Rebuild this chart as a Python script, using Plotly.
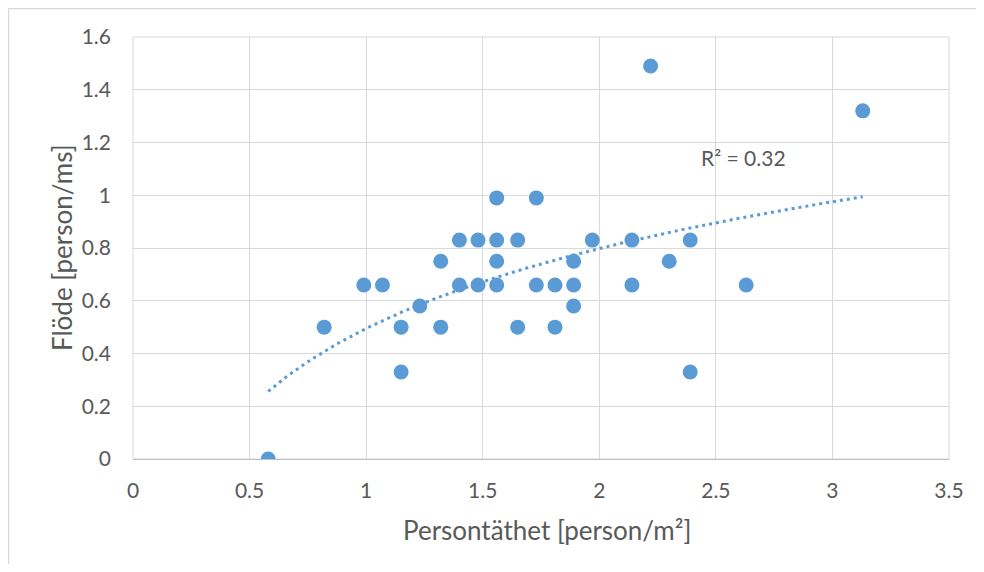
import numpy as np
import plotly.graph_objects as go

# Data
density = [0.58, 0.82, 0.99, 1.07, 1.15, 1.15, 1.23, 1.32, 1.32, 1.40, 1.40,
           1.48, 1.48, 1.56, 1.56, 1.56, 1.56, 1.65, 1.65, 1.73, 1.73, 1.81,
           1.81, 1.89, 1.89, 1.89, 1.97, 2.14, 2.14, 2.22, 2.30, 2.39, 2.39,
           2.63, 3.13]
flow = [0.00, 0.50, 0.66, 0.66, 0.50, 0.33, 0.58, 0.75, 0.50, 0.83, 0.66,
        0.83, 0.66, 0.99, 0.83, 0.75, 0.66, 0.83, 0.50, 0.99, 0.66, 0.66,
        0.50, 0.75, 0.66, 0.58, 0.83, 0.83, 0.66, 1.49, 0.75, 0.83, 0.33,
        0.66, 1.32]

x_ticks = [0, 0.5, 1, 1.5, 2, 2.5, 3, 3.5]
y_ticks = [0, 0.2, 0.4, 0.6, 0.8, 1, 1.2, 1.4, 1.6]
r2_label = "R² = 0.32"
x_title = "Persontäthet [person/m²]"
y_title = "Flöde [person/ms]"

BLUE = "#5B9BD5"
GRID = "#D9D9D9"
TEXT = "#595959"
FONT = "Lato"

# Logarithmic trendline (least squares on ln x)
xd = np.array(density)
yd = np.array(flow)
a, b = np.polyfit(np.log(xd), yd, 1)
xt = np.linspace(xd.min(), xd.max(), 200)
yt = a * np.log(xt) + b

fig = go.Figure()
fig.add_trace(go.Scatter(x=xt, y=yt, mode="lines",
                         line=dict(color=BLUE, width=3, dash="3px,4px"),
                         hoverinfo="skip", showlegend=False))
fig.add_trace(go.Scatter(x=density, y=flow, mode="markers",
                         marker=dict(color=BLUE, size=15, line=dict(width=0)),
                         showlegend=False))

# page has an 8px body margin, so the figure is 968x556
W, H = 968, 556
L, R, T, B = 125, 27, 29, 105
pw, ph = W - L - R, H - T - B


def px(xp):
    return (xp - L) / pw


def py(yp):
    return (H - B - yp) / ph


fig.update_layout(
    width=W, height=H,
    margin=dict(l=L, r=R, t=T, b=B),
    paper_bgcolor="white", plot_bgcolor="white",
    font=dict(family=FONT, color=TEXT, size=21),
    xaxis=dict(range=[0, 3.5], tickvals=x_ticks, ticktext=[f"{v:g}" for v in x_ticks],
               showgrid=True, gridcolor=GRID, gridwidth=1, zeroline=False,
               showline=True, linecolor="#BFBFBF", linewidth=1, mirror=False,
               ticks="", ticklabelstandoff=13, fixedrange=True),
    yaxis=dict(range=[0, 1.6], tickvals=y_ticks, ticktext=[f"{v:g}" for v in y_ticks],
               showgrid=True, gridcolor=GRID, gridwidth=1, zeroline=False,
               showline=False, ticks="", ticklabelstandoff=21, fixedrange=True),
    annotations=[
        dict(x=2.620, y=1.145, xref="x", yref="y", text=r2_label, showarrow=False,
             xanchor="center", yanchor="middle",
             font=dict(size=21, color=TEXT, family=FONT)),
        dict(x=px(539), y=py(522), xref="paper", yref="paper",
             xanchor="center", yanchor="middle",
             text=x_title, showarrow=False, font=dict(size=26, color=TEXT, family=FONT)),
        dict(x=px(54), y=py(240), xref="paper", yref="paper",
             xanchor="center", yanchor="middle",
             text=y_title, showarrow=False, textangle=-90,
             font=dict(size=26, color=TEXT, family=FONT)),
    ],
    shapes=[
        dict(type="rect", xref="paper", yref="paper", x0=0, x1=1, y0=0, y1=1,
             line=dict(color=GRID, width=1), layer="below"),
        dict(type="line", xref="paper", yref="paper",
             x0=px(0.5), x1=px(0.5), y0=py(0.5), y1=py(H + 5),
             line=dict(color=GRID, width=1.5)),
        dict(type="line", xref="paper", yref="paper",
             x0=px(0.5), x1=px(W + 5), y0=py(0.5), y1=py(0.5),
             line=dict(color=GRID, width=1.5)),
    ],
)

fig.write_html("out.html")
